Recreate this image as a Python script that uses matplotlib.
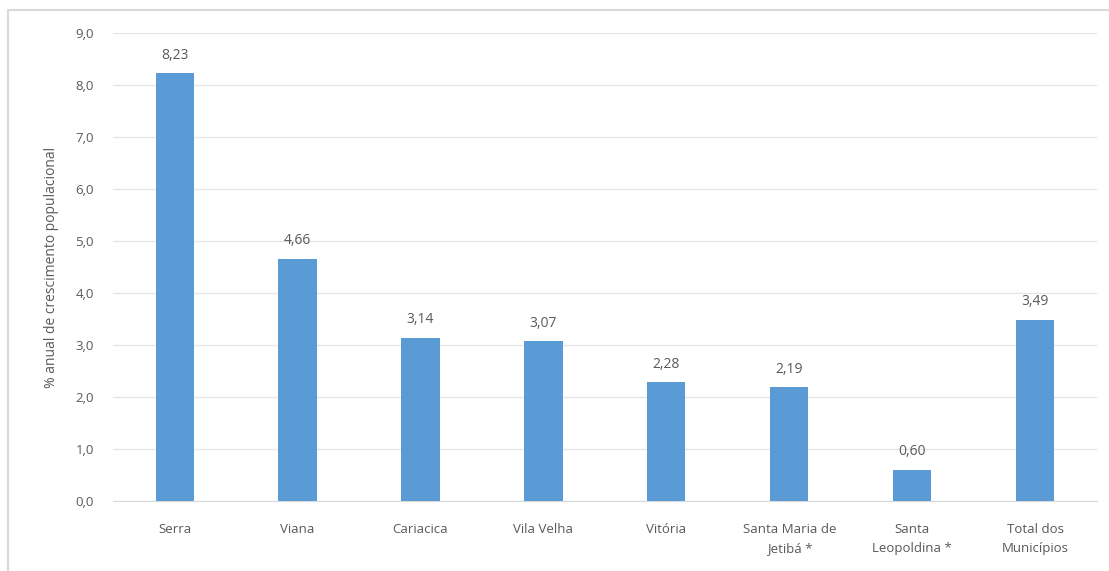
import matplotlib.pyplot as plt
from matplotlib.patches import Rectangle

categories = ["Serra", "Viana", "Cariacica", "Vila Velha", "Vitória",
              "Santa Maria de\nJetibá *", "Santa\nLeopoldina *", "Total dos\nMunicípios"]
growth = [8.23, 4.66, 3.14, 3.07, 2.28, 2.19, 0.60, 3.49]
yticks = [0, 1, 2, 3, 4, 5, 6, 7, 8, 9]

plt.rcParams['font.family'] = ['Open Sans', 'DejaVu Sans']
txt = '#595959'

fig = plt.figure(figsize=(11.09, 5.71), dpi=100)
ax = fig.add_axes([0.102, 0.1226, 0.887, 0.8194])

x = list(range(len(categories)))
ax.bar(x, growth, width=0.31, color='#5B9BD5', zorder=3)
for xi, v in zip(x, growth):
    ax.text(xi, v + 0.2, f"{v:.2f}".replace('.', ','), ha='center', va='bottom',
            fontsize=10, color=txt)

ax.set_xlim(-0.5, len(categories) - 0.5)
ax.set_ylim(0, 9)
ax.set_yticks(yticks)
ax.set_yticklabels([f"{t:.1f}".replace('.', ',') for t in yticks], fontsize=9.5, color=txt)
ax.set_xticks(x)
ax.set_xticklabels(categories, fontsize=9.5, color=txt, linespacing=1.6)
ax.tick_params(length=0)
ax.tick_params(axis='x', pad=16)
ax.tick_params(axis='y', pad=14)
ax.grid(axis='y', color='#e6e6e6', linewidth=1, zorder=0)
for s in ['top', 'right', 'left']:
    ax.spines[s].set_visible(False)
ax.spines['bottom'].set_color('#d9d9d9')
ax.set_ylabel('% anual de crescimento populacional', fontsize=10, color=txt, labelpad=12)

fig.patches.append(Rectangle((8 / 1109, -0.05), 1.0, 1.05 - 10 / 571, transform=fig.transFigure,
                             fill=False, edgecolor='#d9d9d9', linewidth=1.5))

fig.savefig('out.png', dpi=100)
